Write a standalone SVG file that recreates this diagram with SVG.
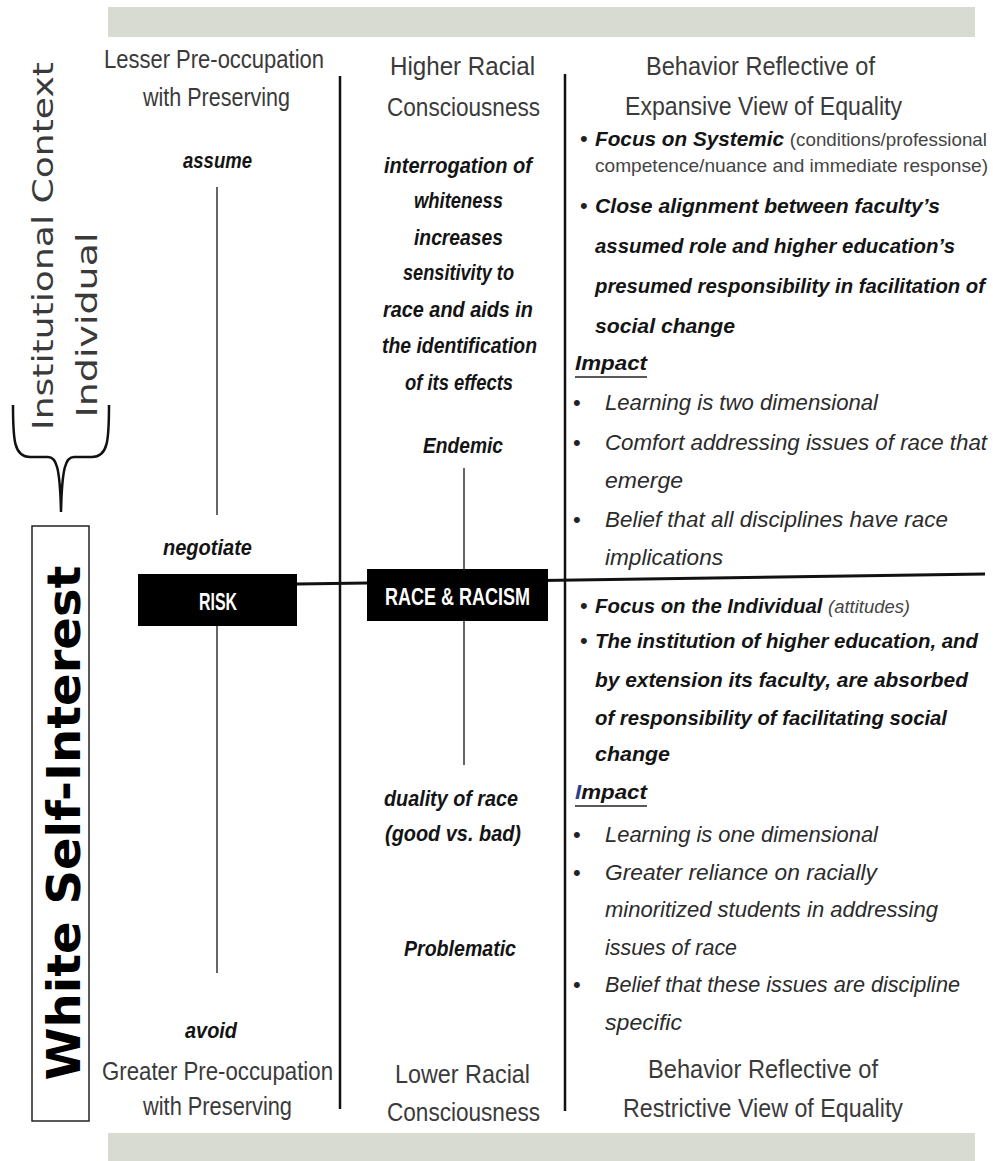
<svg xmlns="http://www.w3.org/2000/svg" width="993" height="1161" viewBox="0 0 993 1161">
<style>
text{font-family:"Liberation Sans",Arial,sans-serif;}
.h{font-size:25px;fill:#3a3a3a;}
.bi{font-size:21px;font-weight:bold;font-style:italic;fill:#141414;}
.mi{font-size:22px;font-weight:bold;font-style:italic;fill:#141414;}
.ri{font-size:22px;font-style:italic;fill:#2b2b2b;}
.sm{font-size:19px;font-weight:normal;font-style:normal;fill:#444;}
.smi{font-size:19px;font-weight:normal;font-style:italic;fill:#444;}
.bul{font-size:22px;fill:#222;}
.box{fill:#000;}
.bt{font-size:24px;font-weight:bold;fill:#fff;}
.vt{font-family:"DejaVu Sans",sans-serif;font-size:28px;fill:#3a3a3a;}
.wsi{font-family:"DejaVu Sans",sans-serif;font-size:46px;font-weight:bold;fill:#000;}
.bar{fill:#d8dbd2;}
.div{stroke:#111;stroke-width:2.5;fill:none;}
.thin{stroke:#333;stroke-width:1.5;fill:none;}
.ul{stroke:#222;stroke-width:1.5;}
</style>
<rect width="993" height="1161" fill="#fff"/>
<g id="bars">
<rect class="bar" x="108" y="7" width="867" height="30"/>
<rect class="bar" x="108" y="1133" width="867" height="28"/>
</g>
<g id="connectors">
<line class="div" x1="340" y1="76" x2="340" y2="1109"/>
<line class="div" x1="565" y1="74" x2="565" y2="1111"/>
<line class="thin" x1="217" y1="187" x2="217" y2="515"/>
<line class="thin" x1="217" y1="626" x2="217" y2="973"/>
<line class="thin" x1="464" y1="468" x2="464" y2="765"/>
<line stroke="#111" stroke-width="3" x1="297" y1="584" x2="985" y2="574"/>
<path stroke="#111" stroke-width="2.5" fill="none" d="M13,405 C13,440 14,457 30,457 L48,457 C56,457 60,466 61,512 M109,405 C109,440 108,457 92,457 L74,457 C66,457 62,466 61,512"/>
</g>
<g id="context-labels">
<text class="vt" transform="translate(53,246) rotate(-90)" x="-184" y="0" textLength="368" lengthAdjust="spacingAndGlyphs">Institutional Context</text>
<text class="vt" transform="translate(97,325) rotate(-90)" x="-92.5" y="0" textLength="185" lengthAdjust="spacingAndGlyphs">Individual</text>
</g>
<g id="white-self-interest">
<rect x="32" y="526" width="57" height="595" fill="#fff" stroke="#222" stroke-width="1.5"/>
<text class="wsi" transform="translate(80,823) rotate(-90)" x="-257.5" y="0" textLength="515" lengthAdjust="spacingAndGlyphs">White Self-Interest</text>
</g>
<g id="col-left">
<text class="h" x="104" y="68" textLength="220" lengthAdjust="spacingAndGlyphs">Lesser Pre-occupation</text>
<text class="h" x="143" y="106" textLength="147" lengthAdjust="spacingAndGlyphs">with Preserving</text>
<text class="mi" x="183" y="168" textLength="69" lengthAdjust="spacingAndGlyphs">assume</text>
<text class="mi" x="163" y="555" textLength="89" lengthAdjust="spacingAndGlyphs">negotiate</text>
<text class="mi" x="185" y="1038" textLength="52" lengthAdjust="spacingAndGlyphs">avoid</text>
<text class="h" x="102" y="1080" textLength="231" lengthAdjust="spacingAndGlyphs">Greater Pre-occupation</text>
<text class="h" x="143" y="1115" textLength="149" lengthAdjust="spacingAndGlyphs">with Preserving</text>
</g>
<g id="risk">
<rect class="box" x="138" y="574" width="159" height="52"/>
<text class="bt" x="199" y="610" textLength="38" lengthAdjust="spacingAndGlyphs">RISK</text>
</g>
<g id="col-middle">
<text class="h" x="390" y="75" textLength="145" lengthAdjust="spacingAndGlyphs">Higher Racial</text>
<text class="h" x="387" y="116" textLength="153" lengthAdjust="spacingAndGlyphs">Consciousness</text>
<text class="mi" x="384" y="173" textLength="148" lengthAdjust="spacingAndGlyphs">interrogation of</text>
<text class="mi" x="414" y="208" textLength="89" lengthAdjust="spacingAndGlyphs">whiteness</text>
<text class="mi" x="414" y="245" textLength="89" lengthAdjust="spacingAndGlyphs">increases</text>
<text class="mi" x="403" y="280" textLength="111" lengthAdjust="spacingAndGlyphs">sensitivity to</text>
<text class="mi" x="383" y="317" textLength="150" lengthAdjust="spacingAndGlyphs">race and aids in</text>
<text class="mi" x="382" y="353" textLength="155" lengthAdjust="spacingAndGlyphs">the identification</text>
<text class="mi" x="405" y="390" textLength="108" lengthAdjust="spacingAndGlyphs">of its effects</text>
<text class="mi" x="423" y="453" textLength="80" lengthAdjust="spacingAndGlyphs">Endemic</text>
<text class="mi" x="384" y="806" textLength="134" lengthAdjust="spacingAndGlyphs">duality of race</text>
<text class="mi" x="385" y="841" textLength="136" lengthAdjust="spacingAndGlyphs">(good vs. bad)</text>
<text class="mi" x="404" y="956" textLength="112" lengthAdjust="spacingAndGlyphs">Problematic</text>
<text class="h" x="395" y="1083" textLength="135" lengthAdjust="spacingAndGlyphs">Lower Racial</text>
<text class="h" x="387" y="1121" textLength="153" lengthAdjust="spacingAndGlyphs">Consciousness</text>
</g>
<g id="race-racism">
<rect class="box" x="367" y="569" width="181" height="52"/>
<text class="bt" x="385" y="605" textLength="145" lengthAdjust="spacingAndGlyphs">RACE &amp; RACISM</text>
</g>
<g id="col-right-expansive">
<text class="h" x="646" y="75" textLength="229" lengthAdjust="spacingAndGlyphs">Behavior Reflective of</text>
<text class="h" x="625" y="115" textLength="277" lengthAdjust="spacingAndGlyphs">Expansive View of Equality</text>
<text class="bul" x="580" y="146">•</text>
<text class="bi" x="595" y="146" textLength="392" lengthAdjust="spacingAndGlyphs">Focus on Systemic <tspan class="sm">(conditions/professional</tspan></text>
<text class="sm" x="595" y="172" textLength="393" lengthAdjust="spacingAndGlyphs">competence/nuance and immediate response)</text>
<text class="bul" x="580" y="213">•</text>
<text class="bi" x="595" y="213" textLength="345" lengthAdjust="spacingAndGlyphs">Close alignment between faculty’s</text>
<text class="bi" x="595" y="253" textLength="360" lengthAdjust="spacingAndGlyphs">assumed role and higher education’s</text>
<text class="bi" x="595" y="293" style="font-size:19.5px" textLength="390" lengthAdjust="spacingAndGlyphs">presumed responsibility in facilitation of</text>
<text class="bi" x="595" y="333" textLength="140" lengthAdjust="spacingAndGlyphs">social change</text>
<text class="bi" x="575" y="370" textLength="72" lengthAdjust="spacingAndGlyphs">Impact</text>
<line class="ul" x1="575" y1="377" x2="647" y2="377"/>
<text class="bul" x="573" y="410">•</text>
<text class="ri" x="605" y="410" textLength="273" lengthAdjust="spacingAndGlyphs">Learning is two dimensional</text>
<text class="bul" x="573" y="450">•</text>
<text class="ri" x="605" y="450" textLength="382" lengthAdjust="spacingAndGlyphs">Comfort addressing issues of race that</text>
<text class="ri" x="605" y="488" textLength="78" lengthAdjust="spacingAndGlyphs">emerge</text>
<text class="bul" x="573" y="527">•</text>
<text class="ri" x="605" y="527" textLength="343" lengthAdjust="spacingAndGlyphs">Belief that all disciplines have race</text>
<text class="ri" x="605" y="565" textLength="118" lengthAdjust="spacingAndGlyphs">implications</text>
</g>
<g id="col-right-restrictive">
<text class="bul" x="580" y="613">•</text>
<text class="bi" x="595" y="613" textLength="315" lengthAdjust="spacingAndGlyphs">Focus on the Individual <tspan class="smi">(attitudes)</tspan></text>
<text class="bul" x="580" y="648">•</text>
<text class="bi" x="595" y="648" textLength="383" lengthAdjust="spacingAndGlyphs">The institution of higher education, and</text>
<text class="bi" x="595" y="687" textLength="373" lengthAdjust="spacingAndGlyphs">by extension its faculty, are absorbed</text>
<text class="bi" x="595" y="725" textLength="352" lengthAdjust="spacingAndGlyphs">of responsibility of facilitating social</text>
<text class="bi" x="595" y="761" textLength="75" lengthAdjust="spacingAndGlyphs">change</text>
<text class="bi" x="575" y="799" textLength="72" lengthAdjust="spacingAndGlyphs"><tspan fill="#2c3e8c">I</tspan>mpact</text>
<line class="ul" x1="575" y1="806" x2="647" y2="806"/>
<text class="bul" x="573" y="842">•</text>
<text class="ri" x="605" y="842" textLength="273" lengthAdjust="spacingAndGlyphs">Learning is one dimensional</text>
<text class="bul" x="573" y="880">•</text>
<text class="ri" x="605" y="880" textLength="272" lengthAdjust="spacingAndGlyphs">Greater reliance on racially</text>
<text class="ri" x="605" y="917" textLength="333" lengthAdjust="spacingAndGlyphs">minoritized students in addressing</text>
<text class="ri" x="605" y="955" textLength="132" lengthAdjust="spacingAndGlyphs">issues of race</text>
<text class="bul" x="573" y="992">•</text>
<text class="ri" x="605" y="992" textLength="355" lengthAdjust="spacingAndGlyphs">Belief that these issues are discipline</text>
<text class="ri" x="605" y="1030" textLength="77" lengthAdjust="spacingAndGlyphs">specific</text>
<text class="h" x="648" y="1078" textLength="230" lengthAdjust="spacingAndGlyphs">Behavior Reflective of</text>
<text class="h" x="623" y="1117" textLength="280" lengthAdjust="spacingAndGlyphs">Restrictive View of Equality</text>
</g>
</svg>
